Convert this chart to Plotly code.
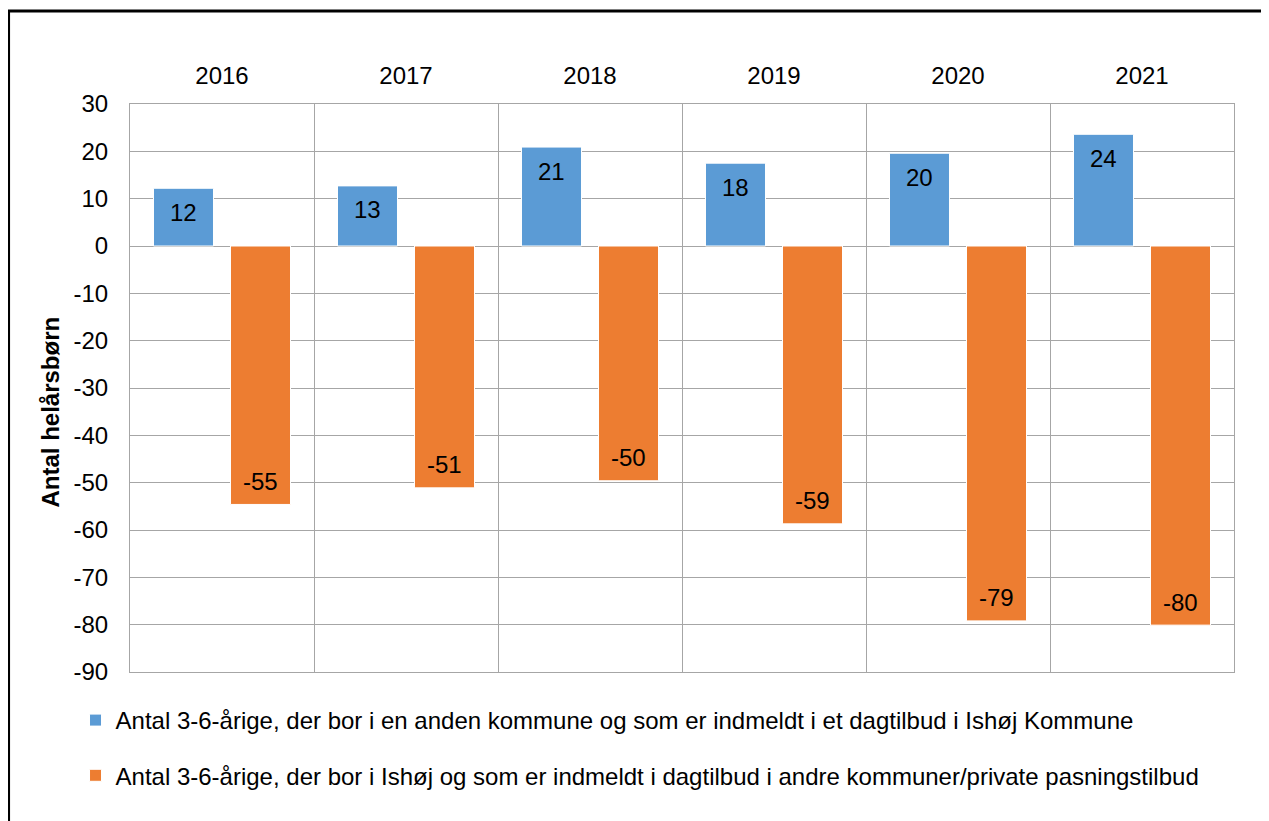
import plotly.graph_objects as go

categories = ["2016", "2017", "2018", "2019", "2020", "2021"]
blue_values = [12.2, 12.7, 20.9, 17.5, 19.6, 23.6]
orange_values = [-54.6, -51.1, -49.6, -58.7, -79.2, -80.1]
blue_name = "Antal 3-6-årige, der bor i en anden kommune og som er indmeldt i et dagtilbud i Ishøj Kommune"
orange_name = "Antal 3-6-årige, der bor i Ishøj og som er indmeldt i dagtilbud i andre kommuner/private pasningstilbud"
y_ticks = list(range(30, -100, -10))
y_tick_text = [str(v) for v in y_ticks]
y_title = "Antal helårsbørn"

OFF = 8  # browser body margin
W, H = 1269 - OFF, 821 - OFF
L, R, T, B = 121.5, 35, 96, 149
FONT = "Liberation Sans, Arial, sans-serif"
FS = 24
GRID = "#A6A6A6"
BLUE = "#5B9BD5"
ORANGE = "#ED7D31"
pw = W - L - R
ph = H - T - B

def px_x(sx):
    return (sx - OFF - L) / pw

def px_y(sy):
    return (H - B - (sy - OFF)) / ph

xpos = list(range(len(categories)))

fig = go.Figure()
fig.add_trace(go.Bar(x=xpos, y=blue_values, name=blue_name, marker_color=BLUE,
                     marker_line=dict(color="white", width=1), legendgroup="a",
                     hoverinfo="y"))
fig.add_trace(go.Bar(x=xpos, y=orange_values, name=orange_name, marker_color=ORANGE,
                     marker_line=dict(color="white", width=1), legendgroup="b",
                     hoverinfo="y"))

annotations = []
for series, shift in ((blue_values, -38.5), (orange_values, 38.5)):
    for i, v in zip(xpos, series):
        annotations.append(dict(x=i, y=v, text=f"{round(v):d}", showarrow=False, xshift=shift,
                                yshift=-24 if v >= 0 else 23,
                                font=dict(family=FONT, size=FS, color="black")))
annotations.append(dict(xref="paper", yref="paper", x=px_x(50), y=px_y(412),
                        xanchor="center", yanchor="middle",
                        text=f"<b>{y_title}</b>", textangle=-90, showarrow=False,
                        font=dict(family=FONT, size=FS, color="black")))

fig.update_layout(
    width=W, height=H,
    margin=dict(l=L, r=R, t=T, b=B),
    paper_bgcolor="white", plot_bgcolor="white",
    barmode="group", bargap=0.163, bargroupgap=0.221,
    font=dict(family=FONT, size=FS, color="black"),
    xaxis=dict(side="top", range=[-0.5, len(categories) - 0.5], tickvals=xpos,
               ticktext=categories, showgrid=False, ticks="", ticklabelstandoff=9,
               zeroline=False,
               minor=dict(tickvals=[i + 0.5 for i in xpos[:-1]], showgrid=True,
                          gridcolor=GRID, gridwidth=1, ticks=""),
               showline=True, linecolor=GRID, linewidth=1, mirror=True,
               tickfont=dict(size=FS, color="black"), fixedrange=True),
    yaxis=dict(range=[min(y_ticks), max(y_ticks)], tickvals=y_ticks, ticktext=y_tick_text,
               showgrid=True, gridcolor=GRID, gridwidth=1,
               zeroline=True, zerolinecolor=GRID, zerolinewidth=1,
               showline=True, linecolor=GRID, linewidth=1, mirror=True, ticks="",
               ticklabelstandoff=16, tickfont=dict(size=FS, color="black"), fixedrange=True),
    legend=dict(orientation="v", x=(67 - L) / pw, xanchor="left",
                y=(H - B - 690) / ph, yanchor="top",
                tracegroupgap=21, font=dict(size=FS, color="black"),
                bgcolor="rgba(0,0,0,0)", itemclick=False, itemdoubleclick=False),
    annotations=annotations,
    shapes=[dict(type="rect", xref="paper", yref="paper",
                 x0=px_x(8), x1=px_x(1300),
                 y0=px_y(850), y1=px_y(11),
                 line=dict(color="black", width=3), fillcolor="rgba(0,0,0,0)", layer="below")],
    showlegend=True,
)

fig.write_html("out.html")
